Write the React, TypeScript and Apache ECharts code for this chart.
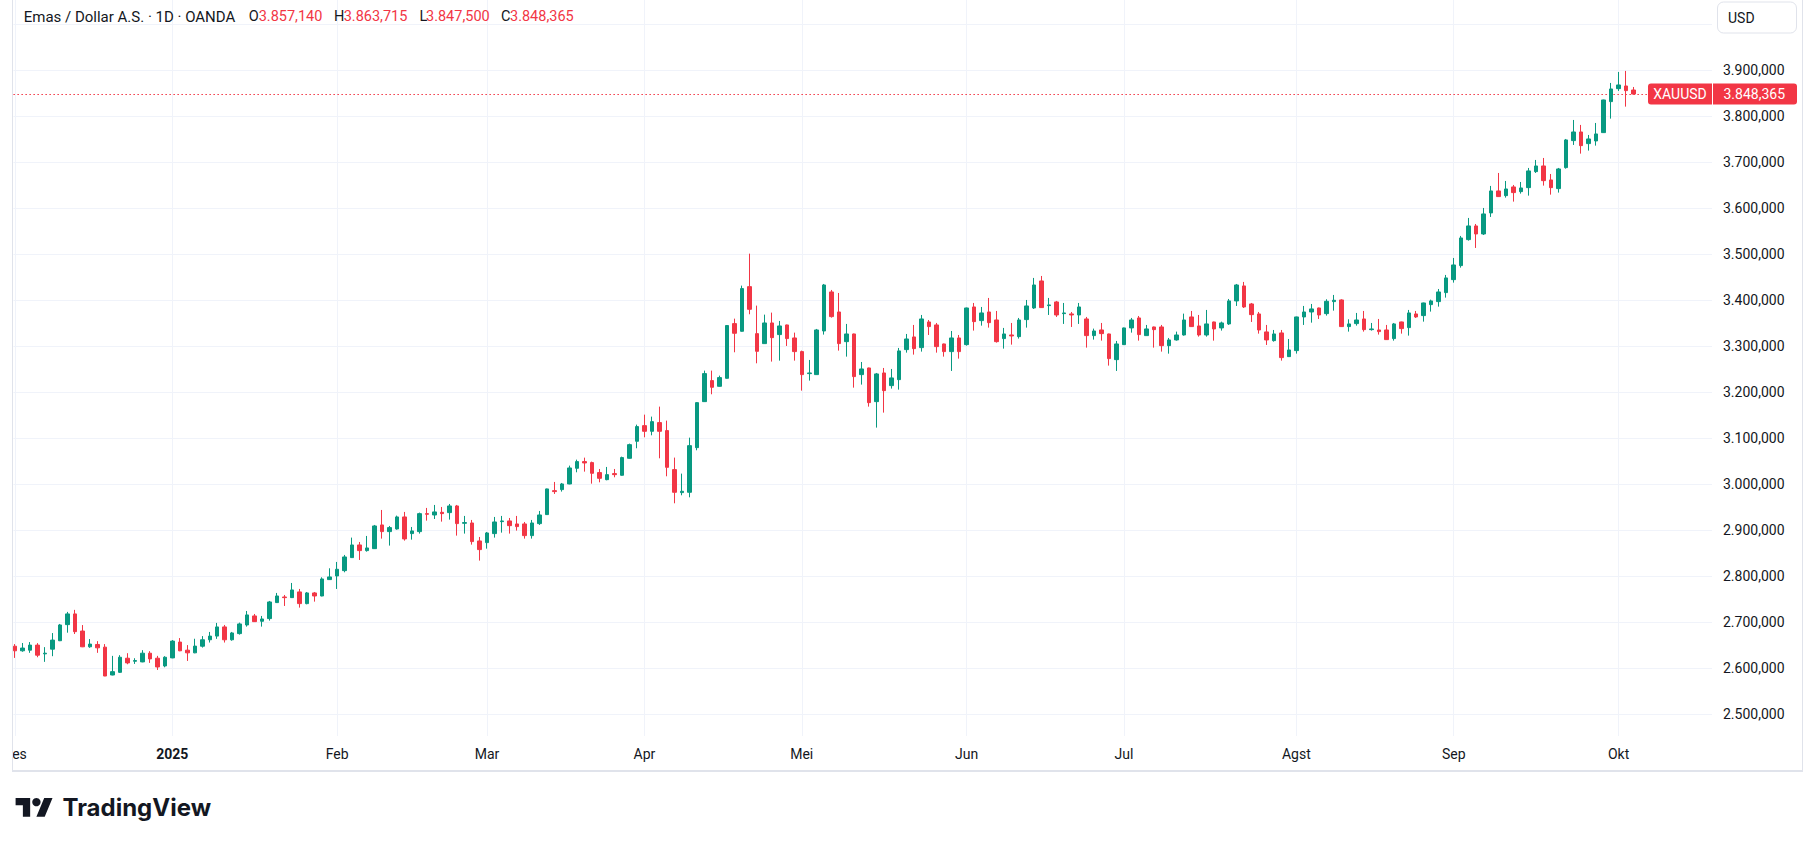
import React, { useEffect, useRef } from "react";
import * as echarts from "echarts";

// ---------- data ----------
const dates: string[] = [
  "2024-12-02","2024-12-03","2024-12-04","2024-12-05","2024-12-06","2024-12-09","2024-12-10","2024-12-11","2024-12-12","2024-12-13",
  "2024-12-16","2024-12-17","2024-12-18","2024-12-19","2024-12-20","2024-12-23","2024-12-24","2024-12-26","2024-12-27","2024-12-30",
  "2024-12-31","2025-01-02","2025-01-03","2025-01-06","2025-01-07","2025-01-08","2025-01-09","2025-01-10","2025-01-13","2025-01-14",
  "2025-01-15","2025-01-16","2025-01-17","2025-01-20","2025-01-21","2025-01-22","2025-01-23","2025-01-24","2025-01-27","2025-01-28",
  "2025-01-29","2025-01-30","2025-01-31","2025-02-03","2025-02-04","2025-02-05","2025-02-06","2025-02-07","2025-02-10","2025-02-11",
  "2025-02-12","2025-02-13","2025-02-14","2025-02-17","2025-02-18","2025-02-19","2025-02-20","2025-02-21","2025-02-24","2025-02-25",
  "2025-02-26","2025-02-27","2025-02-28","2025-03-03","2025-03-04","2025-03-05","2025-03-06","2025-03-07","2025-03-10","2025-03-11",
  "2025-03-12","2025-03-13","2025-03-14","2025-03-17","2025-03-18","2025-03-19","2025-03-20","2025-03-21","2025-03-24","2025-03-25",
  "2025-03-26","2025-03-27","2025-03-28","2025-03-31","2025-04-01","2025-04-02","2025-04-03","2025-04-04","2025-04-07","2025-04-08",
  "2025-04-09","2025-04-10","2025-04-11","2025-04-14","2025-04-15","2025-04-16","2025-04-17","2025-04-21","2025-04-22","2025-04-23",
  "2025-04-24","2025-04-25","2025-04-28","2025-04-29","2025-04-30","2025-05-01","2025-05-02","2025-05-05","2025-05-06","2025-05-07",
  "2025-05-08","2025-05-09","2025-05-12","2025-05-13","2025-05-14","2025-05-15","2025-05-16","2025-05-19","2025-05-20","2025-05-21",
  "2025-05-22","2025-05-23","2025-05-26","2025-05-27","2025-05-28","2025-05-29","2025-05-30","2025-06-02","2025-06-03","2025-06-04",
  "2025-06-05","2025-06-06","2025-06-09","2025-06-10","2025-06-11","2025-06-12","2025-06-13","2025-06-16","2025-06-17","2025-06-18",
  "2025-06-19","2025-06-20","2025-06-23","2025-06-24","2025-06-25","2025-06-26","2025-06-27","2025-06-30","2025-07-01","2025-07-02",
  "2025-07-03","2025-07-04","2025-07-07","2025-07-08","2025-07-09","2025-07-10","2025-07-11","2025-07-14","2025-07-15","2025-07-16",
  "2025-07-17","2025-07-18","2025-07-21","2025-07-22","2025-07-23","2025-07-24","2025-07-25","2025-07-28","2025-07-29","2025-07-30",
  "2025-07-31","2025-08-01","2025-08-04","2025-08-05","2025-08-06","2025-08-07","2025-08-08","2025-08-11","2025-08-12","2025-08-13",
  "2025-08-14","2025-08-15","2025-08-18","2025-08-19","2025-08-20","2025-08-21","2025-08-22","2025-08-25","2025-08-26","2025-08-27",
  "2025-08-28","2025-08-29","2025-09-01","2025-09-02","2025-09-03","2025-09-04","2025-09-05","2025-09-08","2025-09-09","2025-09-10",
  "2025-09-11","2025-09-12","2025-09-15","2025-09-16","2025-09-17","2025-09-18","2025-09-19","2025-09-22","2025-09-23","2025-09-24",
  "2025-09-25","2025-09-26","2025-09-29","2025-09-30","2025-10-01","2025-10-02","2025-10-03",
];

const opens: number[] = [
  2648, 2638, 2639.4, 2650.4, 2631.4, 2641.6, 2659.9, 2694.9, 2718.2, 2681,
  2646.7, 2651.8, 2646, 2585.4, 2591.2, 2621.9, 2615.3, 2613.9, 2632.8, 2621.9,
  2605.1, 2622.6, 2657, 2639.4, 2633.6, 2648, 2662, 2670, 2689.9, 2662,
  2675.4, 2694.2, 2713.8, 2702.2, 2708, 2742.8, 2755, 2753.6, 2766, 2740.6,
  2763.8, 2757.2, 2792.8, 2800.7, 2812.3, 2840.6, 2868.1, 2855.8, 2860.1, 2911.6,
  2897.1, 2902.9, 2929, 2892.8, 2897.1, 2936.2, 2933.3, 2939.1, 2938.4, 2952.9,
  2915.2, 2915.9, 2876.8, 2873.2, 2892.8, 2918.8, 2920.3, 2913.8, 2913.8, 2888.4,
  2914.5, 2934.1, 2986.2, 2988.4, 3000.7, 3034.8, 3049.3, 3047.1, 3025.4, 3010.1,
  3023.2, 3019.6, 3056.5, 3093.5, 3127.5, 3115.2, 3134.1, 3116.7, 3031.9, 2981.9,
  2982.6, 3079.7, 3179.7, 3225.4, 3213, 3230.4, 3349.3, 3332.6, 3429.7, 3327.5,
  3305.8, 3350.7, 3325.4, 3346.4, 3318.1, 3288.4, 3240.6, 3238.4, 3333.3, 3418.1,
  3374.6, 3310.1, 3326.8, 3238.4, 3252.9, 3179.7, 3242, 3214.5, 3227.5, 3292.8,
  3320.3, 3297.1, 3352.9, 3346.4, 3305.1, 3288.4, 3318.1, 3303.6, 3385.5, 3355.8,
  3374.6, 3357.2, 3316.7, 3324.6, 3321, 3358, 3383.3, 3442, 3388.4, 3396.4,
  3371, 3370.3, 3368.1, 3359.4, 3323.2, 3335.5, 3326.8, 3271, 3303.6, 3339.9,
  3361.6, 3323.2, 3342, 3342, 3301.4, 3313.8, 3324.6, 3363.8, 3344.2, 3324.6,
  3352.9, 3339.9, 3348.6, 3398.6, 3431.2, 3392, 3370.3, 3331.2, 3312.3, 3329,
  3277.5, 3290.6, 3363.8, 3374.6, 3383.3, 3371, 3397.1, 3400.7, 3342.8, 3349.3,
  3359.4, 3336.2, 3335.5, 3335.5, 3316.7, 3352.9, 3340.6, 3370.3, 3366.7, 3390.6,
  3397.1, 3416.7, 3444.9, 3475.4, 3531.9, 3561.6, 3544.2, 3589.9, 3637.7, 3627.5,
  3646.4, 3636.2, 3644.9, 3679.7, 3692, 3661.6, 3642.8, 3688.4, 3747.1, 3765.9,
  3740.6, 3746.4, 3764.5, 3831.9, 3860.1, 3865.9, 3857.14,
];

const highs: number[] = [
  2652.6, 2655, 2657, 2654.7, 2646, 2676.6, 2696.4, 2722.6, 2727, 2694,
  2663.5, 2659, 2652.6, 2627, 2628.5, 2632.8, 2621.9, 2639.4, 2637.2, 2627,
  2626.3, 2661.3, 2665.7, 2650.4, 2664.2, 2670, 2679, 2698.6, 2694.2, 2679,
  2699.3, 2724.6, 2718.1, 2713.8, 2746.4, 2763.8, 2759.4, 2785.5, 2772.5, 2765.9,
  2765.9, 2797.8, 2817.4, 2831.2, 2846.4, 2884.1, 2874.6, 2887.7, 2911.6, 2944.2,
  2909.4, 2931.9, 2939.9, 2907.2, 2938.4, 2948.6, 2955.1, 2950.7, 2957.2, 2955.1,
  2931.2, 2922.5, 2885.5, 2896.4, 2929, 2931.2, 2926.8, 2931.2, 2918.1, 2922.5,
  2942, 2990.6, 3005.1, 3002.9, 3040.6, 3053.6, 3057.9, 3049.3, 3033.3, 3037.7,
  3033.3, 3060.1, 3088.4, 3129.7, 3151.4, 3147.1, 3168.8, 3138.4, 3058, 3023.2,
  3101.4, 3178.3, 3247.1, 3247.1, 3236.2, 3345.7, 3360.1, 3431.9, 3501.4, 3388.4,
  3368.8, 3373.2, 3355.1, 3347.1, 3329.7, 3290.6, 3270.3, 3337.7, 3435.5, 3422.5,
  3415.9, 3348.6, 3327.5, 3265.9, 3253.6, 3242, 3252.9, 3250.7, 3296.4, 3326.8,
  3346.4, 3368.1, 3357.2, 3350.7, 3305.8, 3333.3, 3324.6, 3384.1, 3394.2, 3385.5,
  3405.1, 3376.8, 3339.9, 3350.7, 3361.6, 3400.7, 3448.6, 3452.9, 3405.1, 3398.6,
  3394.2, 3374.6, 3394.2, 3363.8, 3338.4, 3350.7, 3327.5, 3311.6, 3340.6, 3361.6,
  3365.9, 3346.4, 3342.8, 3346.4, 3318.1, 3331.9, 3371, 3376.8, 3368.1, 3379,
  3353.6, 3353.6, 3402.9, 3435.5, 3439.9, 3394.2, 3374.6, 3346.4, 3335.5, 3335.5,
  3315.9, 3364.5, 3387.7, 3392, 3384.1, 3402.2, 3411.6, 3402.2, 3358.7, 3372.5,
  3376.8, 3350.7, 3359.4, 3346.4, 3350.7, 3353.6, 3379, 3376.8, 3394.9, 3401.4,
  3424.6, 3455.1, 3492, 3539.9, 3579, 3565.9, 3600.7, 3648.6, 3676.8, 3659.4,
  3650.7, 3657.2, 3687.7, 3705.1, 3709.4, 3674.6, 3687.7, 3750.7, 3792, 3781.2,
  3759.4, 3785.5, 3836.2, 3872.5, 3896.4, 3898.6, 3863.715,
];

const lows: number[] = [
  2622.6, 2636, 2633.6, 2624, 2614, 2626.3, 2659.1, 2677.4, 2674.5, 2646,
  2644.5, 2633.6, 2583, 2584.7, 2589.8, 2608.8, 2609.5, 2613.1, 2611.7, 2596.4,
  2602.2, 2621.9, 2637.2, 2616, 2632.8, 2645, 2656, 2664, 2656, 2660,
  2673.2, 2690.6, 2700.7, 2690.6, 2703.6, 2742, 2735.5, 2752.9, 2731.9, 2739.1,
  2744.9, 2756.5, 2792, 2772.5, 2808.7, 2839.9, 2835.5, 2853.6, 2859.4, 2881.9,
  2866.7, 2901.4, 2877.5, 2879.7, 2892.8, 2921, 2924.6, 2918.8, 2923.2, 2888.4,
  2892.8, 2868.8, 2834.1, 2860.1, 2884.1, 2894.9, 2892.8, 2899.3, 2881.9, 2881.9,
  2911.6, 2933.3, 2979, 2984.1, 3000, 3026.1, 3027.5, 3001.4, 3004.3, 3008.7,
  3015.2, 3018.8, 3055.8, 3078.3, 3102.2, 3106.5, 3056.5, 3017.4, 2958.7, 2976.1,
  2971.7, 3073.9, 3179, 3195.7, 3212.3, 3229.7, 3287, 3331.9, 3369.6, 3263,
  3305.1, 3266.7, 3268.8, 3300.7, 3268.8, 3203.6, 3225.4, 3237.7, 3325.4, 3362.3,
  3290.6, 3277.5, 3210.1, 3216.7, 3168.8, 3123.2, 3155.8, 3208, 3205.8, 3286.2,
  3281.9, 3288.4, 3324.6, 3286.2, 3277.5, 3246.4, 3273.2, 3301.4, 3334.1, 3344.9,
  3340.6, 3308, 3294.9, 3303.6, 3316.7, 3340.6, 3381.2, 3383.3, 3368.1, 3363.8,
  3348.6, 3342, 3348.6, 3297.1, 3314.5, 3312.3, 3258, 3246.4, 3302.9, 3329.7,
  3312.3, 3322.5, 3297.1, 3288.4, 3284, 3312.3, 3323.2, 3342, 3321, 3321,
  3312.3, 3334.1, 3346.4, 3387.7, 3383.3, 3352.9, 3327.5, 3302.9, 3310.1, 3268.8,
  3276.8, 3284.1, 3346.4, 3351.4, 3359.4, 3366.7, 3377.5, 3342, 3331.9, 3344.9,
  3331.9, 3334.1, 3325.4, 3313.8, 3312.3, 3327.5, 3323.2, 3361.6, 3353.6, 3375.4,
  3386.2, 3405.8, 3438.4, 3471, 3529.7, 3513.8, 3542, 3581.2, 3624.6, 3623.2,
  3614.5, 3631.9, 3627.5, 3676.8, 3649.3, 3629.7, 3634.1, 3686.2, 3737.7, 3718.8,
  3725.4, 3736.2, 3763.8, 3794.9, 3855.1, 3821, 3847.5,
];

const closes: number[] = [
  2638, 2644, 2650.4, 2628.5, 2632.8, 2661.3, 2694.2, 2718.2, 2679.6, 2646.7,
  2652.6, 2644.5, 2583.2, 2592.7, 2624, 2611.7, 2616.8, 2632.8, 2620.4, 2602.9,
  2624, 2659.1, 2638, 2633.6, 2648.2, 2662, 2670, 2689.9, 2662, 2676.8,
  2696.4, 2716, 2701.4, 2707.2, 2744.2, 2757.2, 2753.6, 2770.3, 2740.6, 2763.8,
  2757.2, 2794.2, 2798.6, 2815.2, 2842, 2868.1, 2855.8, 2861.6, 2909.4, 2897.1,
  2905.8, 2929, 2881.2, 2898.6, 2936.2, 2934.8, 2939.9, 2936.2, 2952.9, 2914.5,
  2916.7, 2875.4, 2858, 2894.2, 2918.1, 2920.3, 2910.1, 2908, 2888.4, 2915.9,
  2933.3, 2989.9, 2984.1, 3000.7, 3035.5, 3049.3, 3046.4, 3023.9, 3013, 3021,
  3021, 3058, 3086.2, 3125.4, 3115.2, 3136.2, 3115.2, 3036.9, 2982.6, 2984.8,
  3084, 3177.5, 3240.6, 3210.9, 3231.9, 3345.1, 3328.3, 3425.4, 3380.4, 3289.1,
  3350.7, 3318.8, 3344.2, 3316.7, 3288.4, 3238.4, 3242, 3335.5, 3433.3, 3364.5,
  3305.8, 3326.8, 3234.1, 3250.7, 3177.5, 3239.9, 3203.6, 3231.2, 3289.9, 3315.9,
  3294.9, 3359.4, 3342.8, 3299.3, 3288.4, 3318.1, 3288.4, 3383.3, 3353.6, 3372.5,
  3351.4, 3310.1, 3326.8, 3322.5, 3357.2, 3387.7, 3433.3, 3384.1, 3389.9, 3368.1,
  3372.5, 3368.1, 3385.5, 3323.2, 3333.3, 3327.5, 3273.2, 3305.1, 3339.9, 3357.2,
  3325.4, 3337.7, 3336.2, 3301.4, 3313.8, 3324.6, 3357.2, 3342.8, 3324.6, 3348.6,
  3337.7, 3350.7, 3398.6, 3433.3, 3385.5, 3368.8, 3335.5, 3313.8, 3326.8, 3275.4,
  3292, 3363.8, 3374.6, 3381.2, 3368.1, 3397.8, 3400, 3342.8, 3348.6, 3357.2,
  3336.2, 3337.7, 3331.9, 3314.5, 3348.6, 3338.4, 3372.5, 3363.8, 3394.2, 3398.6,
  3418.1, 3448.6, 3476.8, 3535.5, 3561.6, 3544.2, 3587.7, 3637.7, 3625.4, 3642,
  3634.1, 3644.2, 3681.2, 3692, 3660.1, 3644.9, 3685.5, 3748.6, 3765.9, 3736.2,
  3750.7, 3761.6, 3835.5, 3859.4, 3868.1, 3855.8, 3848.365,
];

const priceTicks: number[] = [2500, 2600, 2700, 2800, 2900, 3000, 3100, 3200, 3300, 3400, 3500, 3600, 3700, 3800, 3900, 4000];
const monthNames: string[] = ["Jan", "Feb", "Mar", "Apr", "Mei", "Jun", "Jul", "Agst", "Sep", "Okt", "Nov", "Des"];
const titleText = "Emas / Dollar A.S. · 1D · OANDA";
const symbolName = "XAUUSD";
const currencyName = "USD";
const brandName = "TradingView";

// ---------- style ----------
const W = 1815;
const H = 845;
const UP = "#089981";
const DOWN = "#f23645";
const TEXT = "#131722";
const GRIDC = "#f0f3fa";
const FRAME = "#e0e3eb";
const FONT = "Roboto, 'Noto Sans', sans-serif";
const GRID = { left: 12, right: 103, top: 0, bottom: 109 };
const X_MIN = -0.2;
const X_MAX = 226.467;
const Y_MIN = 2452.8;
const Y_MAX = 4052.8;

function fmt(v: number): string {
  const m = Math.round(v * 1000);
  const ip = Math.floor(m / 1000);
  const fp = String(m % 1000).padStart(3, "0");
  return String(ip).replace(/\B(?=(\d{3})+(?!\d))/g, ".") + "," + fp;
}

const TV_D = "M14 22H7V11H0V4h14v18zM28 22h-8l7.5-18h8L28 22z";
echarts.graphic.registerShape("tvlogo", echarts.graphic.extendPath(TV_D, {}));

export default function App() {
  const ref = useRef<HTMLDivElement>(null);

  useEffect(() => {
    const el = ref.current;
    if (!el) return;
    const chart = echarts.init(el, null, { renderer: "svg" });

    const n = dates.length;
    const last = n - 1;
    const candles = dates.map((_, i) => [i, opens[i], closes[i], lows[i], highs[i]]);
    const monthStarts: number[] = [];
    dates.forEach((d, i) => {
      if (i === 0 || d.slice(0, 7) !== dates[i - 1].slice(0, 7)) monthStarts.push(i);
    });
    const monthLabel = (i: number) => {
      const d = dates[i];
      if (!d) return "";
      const m = Number(d.slice(5, 7));
      return m === 1 ? `{b|${d.slice(0, 4)}}` : monthNames[m - 1];
    };
    const lastClose = closes[last];
    const topTick = priceTicks[priceTicks.length - 1];

    chart.setOption({
      animation: false,
      backgroundColor: "#ffffff",
      grid: { ...GRID, containLabel: false },
      xAxis: {
        type: "value",
        min: X_MIN,
        max: X_MAX,
        axisLine: { show: false },
        axisTick: { show: false },
        splitLine: { show: false },
        axisLabel: {
          customValues: monthStarts,
          formatter: (v: number) => monthLabel(Math.round(v)),
          color: TEXT,
          fontSize: 14,
          fontFamily: FONT,
          margin: 11,
          rich: { b: { fontWeight: "bold", fontSize: 14, color: TEXT, fontFamily: FONT } },
        },
      },
      yAxis: {
        type: "value",
        position: "right",
        min: Y_MIN,
        max: Y_MAX,
        splitNumber: 16,
        minInterval: 100,
        maxInterval: 100,
        axisLine: { show: false },
        axisTick: { show: false },
        splitLine: { show: false },
        axisLabel: {
          showMinLabel: false,
          showMaxLabel: false,
          formatter: (v: number) => (v >= priceTicks[0] && v < topTick ? fmt(v) : ""),
          color: TEXT,
          fontSize: 14,
          fontFamily: FONT,
          margin: 11,
        },
      },
      series: [
        {
          type: "candlestick",
          data: candles,
          barWidth: 4,
          clip: true,
          itemStyle: { color: UP, color0: DOWN, borderColor: UP, borderColor0: DOWN, borderWidth: 1 },
          emphasis: { disabled: true },
          markLine: {
            silent: true,
            z: 0,
            symbol: ["none", "none"],
            animation: false,
            label: { show: false },
            emphasis: { disabled: true },
            lineStyle: { color: GRIDC, width: 1, type: "solid" },
            data: [
              ...priceTicks.map((v) => ({ yAxis: v })),
              ...monthStarts.map((i) => ({ xAxis: i })),
              { yAxis: lastClose, lineStyle: { color: DOWN, width: 1, type: [1.5, 2.5] } },
            ],
          },
        },
      ],
    });

    const py = chart.convertToPixel({ yAxisIndex: 0 }, lastClose) as number;
    const plotRight = W - GRID.right;
    const frameBottom = 771;
    const textStyle = (text: string, fill: string, extra: any = {}) => ({
      text,
      fill,
      fontSize: 14,
      fontFamily: FONT,
      verticalAlign: "middle",
      align: "left",
      ...extra,
    });

    const headerY = 16.5;
    const header = [
      { x: 23.7, text: titleText, fill: TEXT, size: 15 },
      { x: 248.8, text: "O", fill: TEXT, size: 14.5 },
      { x: 258.7, text: fmt(opens[last]), fill: DOWN, size: 14.5 },
      { x: 334, text: "H", fill: TEXT, size: 14.5 },
      { x: 343.7, text: fmt(highs[last]), fill: DOWN, size: 14.5 },
      { x: 419.5, text: "L", fill: TEXT, size: 14.5 },
      { x: 426, text: fmt(lows[last]), fill: DOWN, size: 14.5 },
      { x: 501, text: "C", fill: TEXT, size: 14.5 },
      { x: 510, text: fmt(closes[last]), fill: DOWN, size: 14.5 },
    ];

    const logoX = 15.6;
    const logoY = 793.8;
    const logoS = 1.04;

    chart.setOption({
      graphic: {
        elements: [
          { type: "rect", z: 100, shape: { x: 0, y: GRID.top + (H - GRID.bottom) + 1, width: GRID.left, height: 34 }, style: { fill: "#ffffff" } },
          { type: "line", z: 101, shape: { x1: 12.5, y1: 0, x2: 12.5, y2: frameBottom }, style: { stroke: FRAME, lineWidth: 1 } },
          { type: "line", z: 101, shape: { x1: 1802.5, y1: 0, x2: 1802.5, y2: frameBottom }, style: { stroke: FRAME, lineWidth: 1 } },
          { type: "line", z: 101, shape: { x1: 12, y1: frameBottom, x2: 1803, y2: frameBottom }, style: { stroke: FRAME, lineWidth: 2 } },
          ...header.map((h) => ({ type: "text", z: 102, x: h.x, y: headerY, style: textStyle(h.text, h.fill, { fontSize: h.size }) })),
          { type: "rect", z: 102, shape: { x: 1717.5, y: 2, width: 79, height: 31, r: 6 }, style: { fill: "#ffffff", stroke: FRAME, lineWidth: 1 } },
          { type: "text", z: 103, x: 1728, y: 17.5, style: textStyle(currencyName, TEXT) },
          { type: "rect", z: 102, shape: { x: 1648, y: py - 10.5, width: plotRight - 1648, height: 21, r: [3, 0, 0, 3] }, style: { fill: DOWN } },
          { type: "text", z: 103, x: (1648 + plotRight) / 2, y: py, style: textStyle(symbolName, "#ffffff", { align: "center" }) },
          { type: "rect", z: 102, shape: { x: plotRight + 1, y: py - 10.5, width: 84, height: 21, r: [0, 3, 3, 0] }, style: { fill: DOWN } },
          { type: "text", z: 103, x: plotRight + 11.5, y: py, style: textStyle(fmt(lastClose), "#ffffff") },
          { type: "tvlogo", z: 102, x: logoX, y: logoY, scaleX: logoS, scaleY: logoS, style: { fill: TEXT } },
          { type: "circle", z: 102, shape: { cx: logoX + 20 * logoS, cy: logoY + 8 * logoS, r: 4 * logoS }, style: { fill: TEXT } },
          {
            type: "text",
            z: 102,
            x: 62.5,
            y: 807.5,
            style: { text: brandName, fill: TEXT, fontSize: 24, fontWeight: "bold", fontFamily: "Inter, Roboto, sans-serif", verticalAlign: "middle", align: "left" },
          },
        ],
      },
    });

    return () => {
      chart.dispose();
    };
  }, []);

  return (
    <div
      ref={ref}
      style={{ position: "absolute", left: 0, top: 0, width: W, height: H, background: "#ffffff" }}
    />
  );
}
